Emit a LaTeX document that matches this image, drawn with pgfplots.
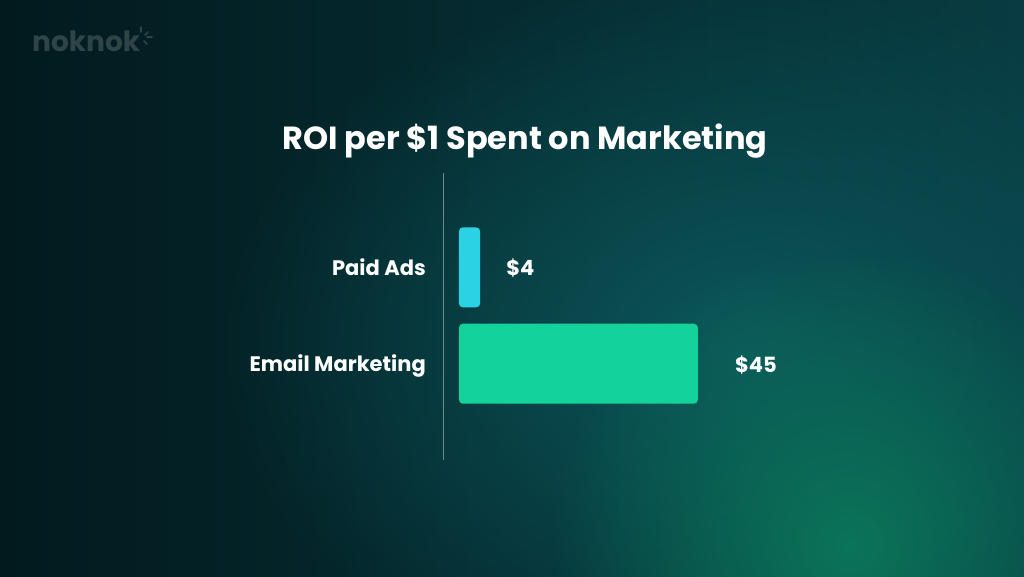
\documentclass[border=0pt]{standalone}
\usepackage{fontspec}
\setmainfont{Poppins}
\usepackage{pgfplots}
\pgfplotsset{compat=1.18}
\usetikzlibrary{fadings}
\definecolor{bgA}{HTML}{021A1E}
\definecolor{bgB}{HTML}{06343A}
\definecolor{bgC}{HTML}{083C42}
\definecolor{teal}{HTML}{0C5A5E}
\definecolor{glow}{HTML}{0B7A5A}
\definecolor{cyanbar}{HTML}{29D3E3}
\definecolor{greenbar}{HTML}{13D39B}
\definecolor{axgray}{HTML}{6F8B8E}
\definecolor{logo}{HTML}{2E4446}
\tikzfading[name=glowfade, inner color=transparent!0, outer color=transparent!100]
\begin{document}
\begin{tikzpicture}
\shade[left color=bgA, middle color=bgB, right color=bgC] (0pt,0pt) rectangle (1024pt,576pt);
\fill[overlay, teal, path fading=glowfade, opacity=0.9] (740pt,230pt) ellipse (520pt and 380pt);
\fill[overlay, glow, path fading=glowfade, opacity=0.9] (850pt,30pt) circle (300pt);
\node[font=\bfseries\fontsize{28}{32}\selectfont, text=logo, anchor=base west, inner sep=0pt] at (32pt,524pt) {noknok};
\draw[logo, line width=1.6pt, line cap=round] (141pt,549pt) -- (141pt,544pt);
\draw[logo, line width=1.6pt, line cap=round] (145pt,541pt) -- (148pt,544pt);
\draw[logo, line width=1.6pt, line cap=round] (147pt,539pt) -- (152pt,539pt);
\draw[logo, line width=1.6pt, line cap=round] (144pt,535pt) -- (147pt,532pt);
\node[font=\bfseries\fontsize{32}{38}\selectfont, text=white, anchor=base, inner sep=0pt] at (525pt,426pt) {ROI per \$1 Spent on Marketing};
\begin{axis}[
  at={(443pt,116pt)}, anchor=south west,
  scale only axis, width=334.5pt, height=287pt,
  xbar, xmin=-3, xmax=60, ymin=-1, ymax=1.98,
  ytick={0,1}, yticklabels={Email Marketing, Paid Ads},
  xtick=\empty, axis line style={draw=none},
  major tick length=0pt, bar width=80pt,
  yticklabel style={font=\bfseries\fontsize{21}{25}\selectfont, text=white, inner sep=0pt, anchor=base east, xshift=-17pt, yshift=-8pt},
  /pgf/number format/assume math mode=true,
  clip=false,
]
\draw[axgray, line width=1pt] (rel axis cs:0,0) -- (rel axis cs:0,1);
\addplot[fill=cyanbar, draw=none, rounded corners=4pt, bar shift=0pt,
  nodes near coords={\$\pgfmathprintnumber{\pgfplotspointmeta}},
  every node near coord/.append style={font=\bfseries\fontsize{21}{25}\selectfont, text=white, anchor=base west, inner sep=0pt, xshift=26pt, yshift=-8pt, rounded corners=0pt}]
  coordinates {(4,1)};
\addplot[fill=greenbar, draw=none, rounded corners=4pt, bar shift=0pt,
  nodes near coords={\$\pgfmathprintnumber{\pgfplotspointmeta}},
  every node near coord/.append style={font=\bfseries\fontsize{21}{25}\selectfont, text=white, anchor=base west, inner sep=0pt, xshift=37pt, yshift=-9pt, rounded corners=0pt}]
  coordinates {(45,0)};
\end{axis}
\end{tikzpicture}
\end{document}
